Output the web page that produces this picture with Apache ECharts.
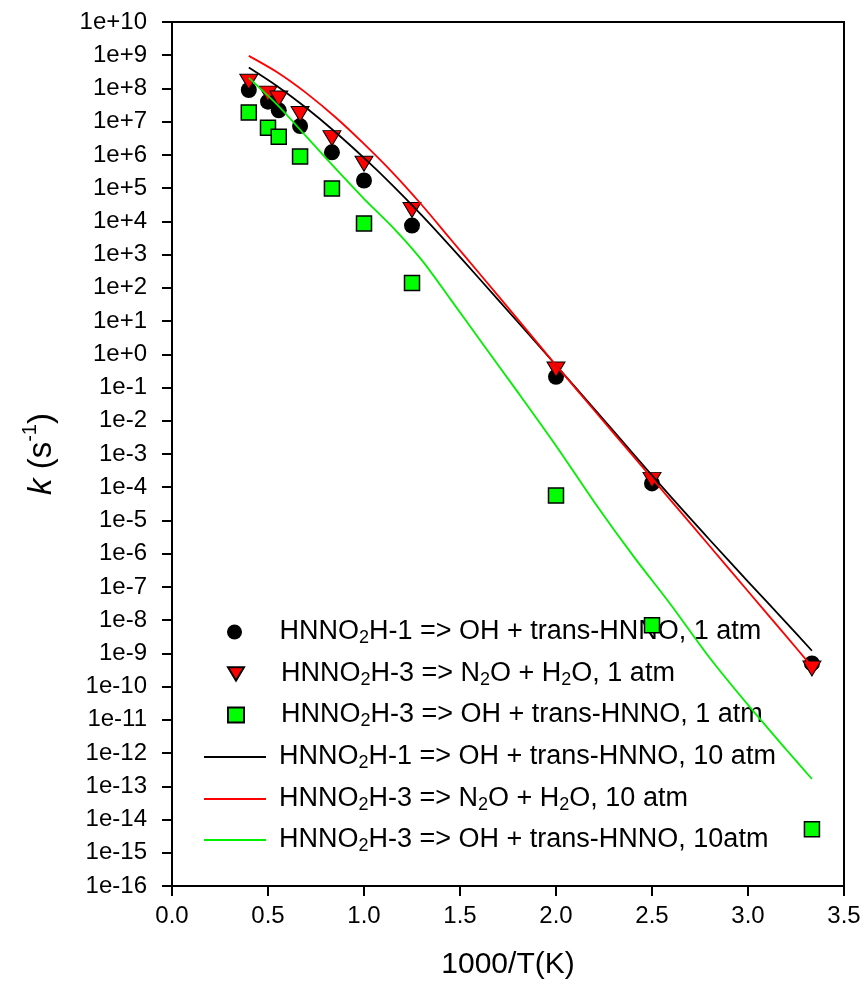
<!DOCTYPE html>
<html><head><meta charset="utf-8">
<script src="https://cdn.jsdelivr.net/npm/echarts@6/dist/echarts.min.js"></script>
<style>html,body{margin:0;padding:0;background:#fff}#c{width:865px;height:997px}</style>
</head><body><div id="c"></div>
<script>
// 1000/T(K) for the computed points
const invT = [0.4, 0.5, 0.556, 0.667, 0.833, 1.0, 1.25, 2.0, 2.5, 3.333];
// 1 atm scatter series, k (s^-1)
const kH1_OH_1atm  = [9e7, 4e7, 2.2e7, 7.4e6, 1.2e6, 1.7e5, 7.5e3, 0.21, 1.3e-4, 5e-10];
const kH3_N2O_1atm = [1.6e8, 7e7, 5e7, 1.7e7, 3.2e6, 5.4e5, 2.2e4, 0.35, 1.66e-4, 3.5e-10];
const kH3_OH_1atm  = [1.9e7, 6.6e6, 3.5e6, 8.9e5, 9.8e4, 8.7e3, 1.4e2, 5.6e-5, 7e-9, 5.1e-15];

// 10 atm curves
const xH1_OH_10  = [0.4, 0.55, 0.7, 0.85, 1.0, 1.15, 1.3, 1.45, 1.6, 1.8, 2.0, 2.2, 2.4, 2.6, 2.8, 3.0, 3.2, 3.333];
const kH1_OH_10  = [4.27e8, 1.15e8, 2.57e7, 4.90e6, 8.13e5, 1.20e5, 1.55e4, 1.78e3, 1.91e2, 9.55, 0.468, 0.0224,
                    1.05e-3, 5.01e-5, 2.63e-6, 1.45e-7, 8.32e-9, 1.20e-9];
const xH3_N2O_10 = [0.4, 0.55, 0.7, 0.85, 1.0, 1.15, 1.3, 1.45, 1.6, 1.8, 2.0, 2.2, 2.4, 2.6, 2.8, 3.0, 3.2, 3.333];
const kH3_N2O_10 = [9.55e8, 3.02e8, 7.24e7, 1.38e7, 2.14e6, 2.88e5, 3.16e4, 2.95e3, 2.75e2, 11.5, 0.468, 0.0204,
                    8.91e-4, 3.89e-5, 1.70e-6, 7.41e-8, 3.24e-9, 3.98e-10];
const xH3_OH_10  = [0.4, 0.55, 0.7, 0.85, 1.0, 1.15, 1.3, 1.45, 1.6, 1.8, 2.0, 2.2, 2.4, 2.6, 2.8, 3.0, 3.2, 3.333];
const kH3_OH_10  = [2.09e8, 3.16e7, 3.55e6, 3.98e5, 4.79e4, 6.61e3, 6.92e2, 45.7, 2.88, 0.0741, 1.78e-3, 3.55e-5,
                    8.91e-7, 2.82e-8, 7.41e-10, 2.82e-11, 1.26e-12, 1.66e-13];

const names = [
  'HNNO2H-1 => OH + trans-HNNO, 1 atm',
  'HNNO2H-3 => N2O + H2O, 1 atm',
  'HNNO2H-3 => OH + trans-HNNO, 1 atm',
  'HNNO2H-1 => OH + trans-HNNO, 10 atm',
  'HNNO2H-3 => N2O + H2O, 10 atm',
  'HNNO2H-3 => OH + trans-HNNO, 10atm'
];

const FONT = 'Liberation Sans, Arial, sans-serif';
const pairs = (xs, ys) => xs.map((x, i) => [x, ys[i]]);
const richName = (n, lead) => '{' + lead + '| }{t|' + n.replace(/([A-Z])2([A-Z])/g, '$1}{s|2}{t|$2') + '}';
const baseRich = {
  t: {fontSize: 27, fontFamily: FONT, color: '#000', lineHeight: 30, verticalAlign: 'middle'},
  s: {fontSize: 18, fontFamily: FONT, color: '#000', lineHeight: 18, padding: [12, 0, 0, 0], verticalAlign: 'bottom'}
};
const richA = Object.assign({a: {width: 32, fontSize: 27, lineHeight: 30}}, baseRich);
const richB = Object.assign({b: {width: 8, fontSize: 27, lineHeight: 30}}, baseRich);

const legendTops = [617, 659, 700, 742, 784, 825];
const legends = names.map((n, i) => {
  const isLine = i >= 3;
  const item = isLine ? {name: n, icon: 'rect'} : (i === 1 ? {name: n, icon: 'path://M0,0L18,0L9,15Z'} : n);
  return {
    data: [item], orient: 'vertical', left: isLine ? 204 : 227, top: legendTops[i], padding: 0,
    itemWidth: isLine ? 62 : 16, itemHeight: isLine ? 2 : 15, selectedMode: false, symbolKeepAspect: true,
    formatter: nm => richName(nm, isLine ? 'b' : 'a'), textStyle: {rich: isLine ? richB : richA}
  };
});

const chart = echarts.init(document.getElementById('c'), null, {renderer: 'canvas'});
chart.setOption({
  backgroundColor: '#fff',
  animation: false,
  grid: {left: 172, right: 21, top: 22, bottom: 111, show: true, borderColor: '#000', borderWidth: 2, backgroundColor: 'transparent'},
  xAxis: {
    type: 'value', min: 0, max: 3.5, interval: 0.5,
    axisLine: {lineStyle: {color: '#000', width: 2}},
    axisTick: {show: true, length: 10, inside: false, lineStyle: {color: '#000', width: 2}},
    splitLine: {show: false},
    axisLabel: {color: '#000', fontSize: 24, fontFamily: FONT, margin: 18, formatter: v => v.toFixed(1)},
    name: '1000/T(K)', nameLocation: 'middle', nameGap: 64,
    nameTextStyle: {color: '#000', fontSize: 30, fontFamily: FONT}
  },
  yAxis: {
    type: 'log', logBase: 10, min: 1e-16, max: 1e10, interval: 1, splitNumber: 26,
    axisLine: {lineStyle: {color: '#000', width: 2}},
    axisTick: {show: true, length: 10, inside: false, lineStyle: {color: '#000', width: 2}},
    minorTick: {show: false},
    splitLine: {show: false},
    axisLabel: {
      color: '#000', fontSize: 24, fontFamily: FONT, margin: 25, interval: 0, hideOverlap: false,
      formatter: v => { const e = Math.round(Math.log10(v)); return '1e' + (e >= 0 ? '+' : '') + e; }
    },
    name: '{k|k}{p| (s}{sup|-1}{p|)}', nameLocation: 'middle', nameRotate: 90, nameGap: 114,
    nameTextStyle: {
      rich: {
        k: {fontSize: 33, fontFamily: FONT, fontStyle: 'italic', color: '#000', lineHeight: 38, verticalAlign: 'bottom'},
        p: {fontSize: 33, fontFamily: FONT, color: '#000', lineHeight: 38, verticalAlign: 'bottom'},
        sup: {fontSize: 20, fontFamily: FONT, color: '#000', lineHeight: 38, verticalAlign: 'top'}
      }
    }
  },
  legend: legends,
  series: [
    {name: names[0], type: 'scatter', data: pairs(invT, kH1_OH_1atm), symbol: 'circle', symbolSize: 16,
     itemStyle: {color: '#000', borderColor: '#000', borderWidth: 0, opacity: 1}, z: 3},
    {name: names[1], type: 'scatter', data: pairs(invT, kH3_N2O_1atm), symbol: 'triangle', symbolRotate: 180, symbolSize: [18, 15],
     itemStyle: {color: '#ff0000', borderColor: '#000', borderWidth: 1, opacity: 1}, z: 4},
    {name: names[2], type: 'scatter', data: pairs(invT, kH3_OH_1atm), symbol: 'rect', symbolSize: 15,
     itemStyle: {color: '#00ff00', borderColor: '#000', borderWidth: 1.5, opacity: 1}, z: 4},
    {name: names[3], type: 'line', data: pairs(xH1_OH_10, kH1_OH_10), symbol: 'none', showSymbol: false, smooth: 0.3,
     lineStyle: {color: '#000', width: 1.8}, itemStyle: {color: '#000'}, z: 5},
    {name: names[4], type: 'line', data: pairs(xH3_N2O_10, kH3_N2O_10), symbol: 'none', showSymbol: false, smooth: 0.3,
     lineStyle: {color: '#ff0000', width: 1.8}, itemStyle: {color: '#ff0000'}, z: 5},
    {name: names[5], type: 'line', data: pairs(xH3_OH_10, kH3_OH_10), symbol: 'none', showSymbol: false, smooth: 0.3,
     lineStyle: {color: '#00f000', width: 1.8}, itemStyle: {color: '#00f000'}, z: 5}
  ]
});
</script></body></html>
